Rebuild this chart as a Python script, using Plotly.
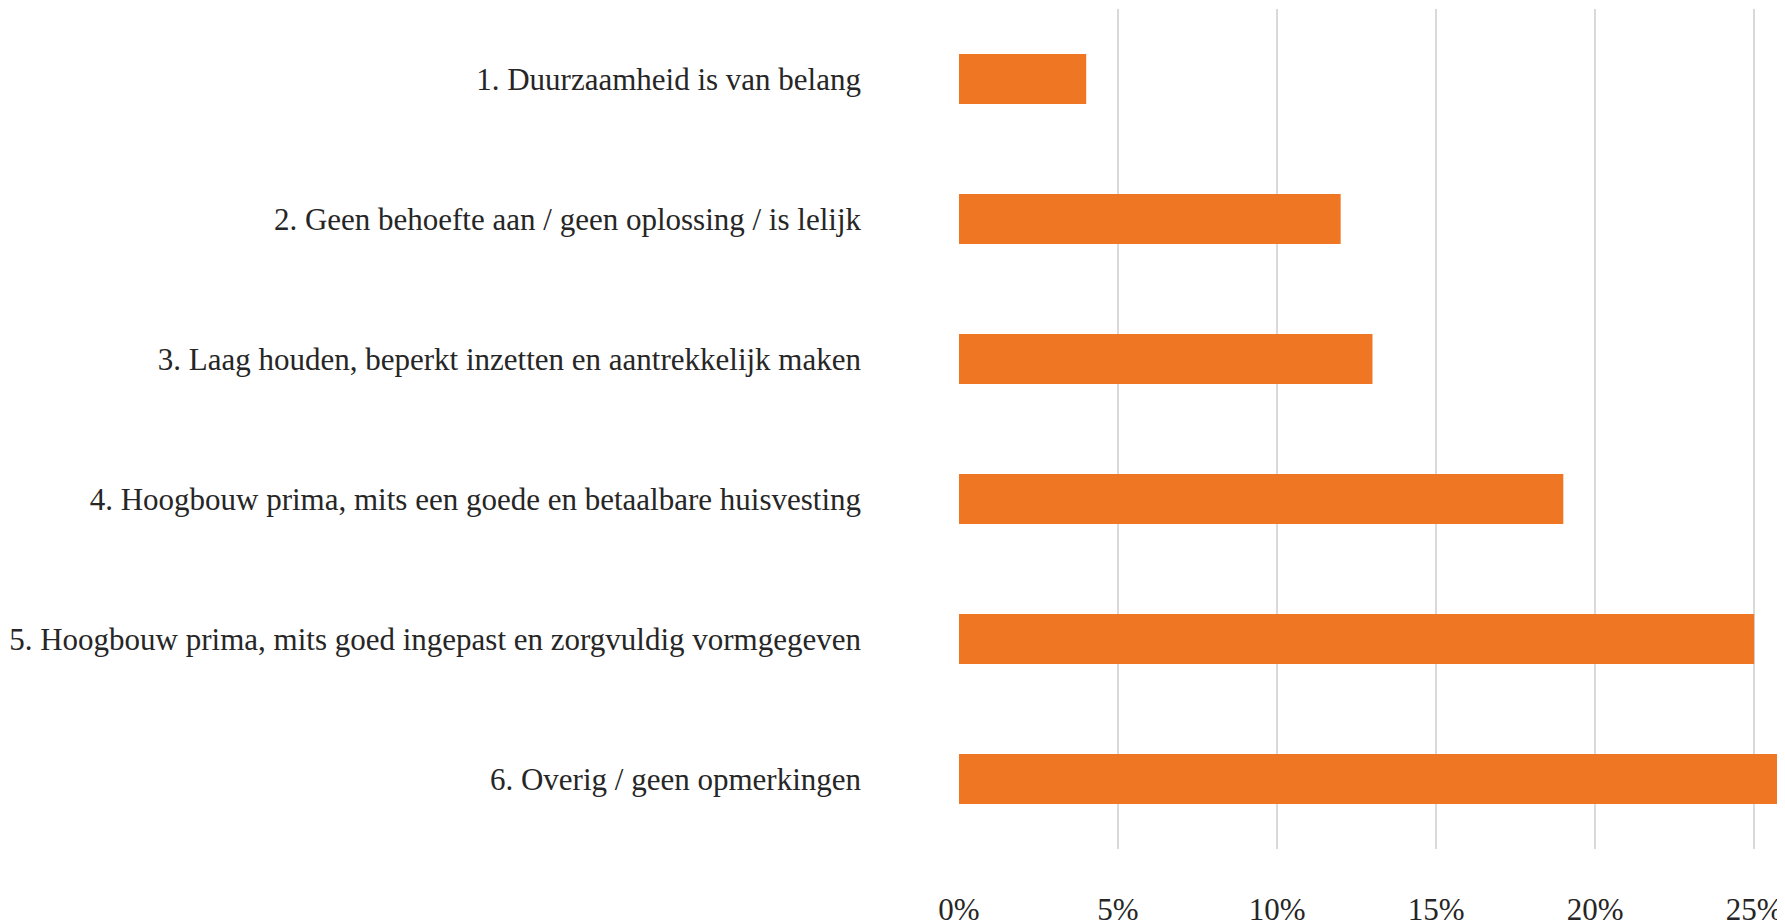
import plotly.graph_objects as go

categories = [
    "1. Duurzaamheid is van belang",
    "2. Geen behoefte aan / geen oplossing / is lelijk",
    "3. Laag houden, beperkt inzetten en aantrekkelijk maken",
    "4. Hoogbouw prima, mits een goede en betaalbare huisvesting",
    "5. Hoogbouw prima, mits goed ingepast en zorgvuldig vormgegeven",
    "6. Overig / geen opmerkingen",
]
values = [0.04, 0.12, 0.13, 0.19, 0.25, 0.27]
x_ticks = [0, 0.05, 0.10, 0.15, 0.20, 0.25]
x_tick_labels = ["0%", "5%", "10%", "15%", "20%", "25%"]

FONT = "Liberation Serif"
FS = 31
fig = go.Figure(
    go.Bar(
        x=values,
        y=categories,
        orientation="h",
        marker=dict(color="#EF7622", line=dict(width=0)),
        hoverinfo="x+y",
    )
)
fig.update_layout(
    width=1777,
    height=915,
    margin=dict(l=951, r=0, t=1, b=74, autoexpand=False),
    paper_bgcolor="white",
    plot_bgcolor="white",
    bargap=0.643,
    showlegend=False,
    font=dict(family=FONT, size=FS, color="#262626"),
)
fig.update_xaxes(
    range=[0, 0.2597],
    tickvals=x_ticks,
    ticktext=x_tick_labels,
    showgrid=True,
    gridcolor="#D9D9D9",
    gridwidth=1.5,
    zeroline=False,
    showline=False,
    ticks="",
    automargin=False,
    ticklabelstandoff=39,
    tickfont=dict(family=FONT, size=FS, color="#262626"),
)
fig.update_yaxes(
    autorange="reversed",
    showgrid=False,
    zeroline=False,
    showline=False,
    ticks="",
    automargin=False,
    ticklabelstandoff=97,
    tickfont=dict(family=FONT, size=FS, color="#262626"),
)
fig.write_html("out.html")
